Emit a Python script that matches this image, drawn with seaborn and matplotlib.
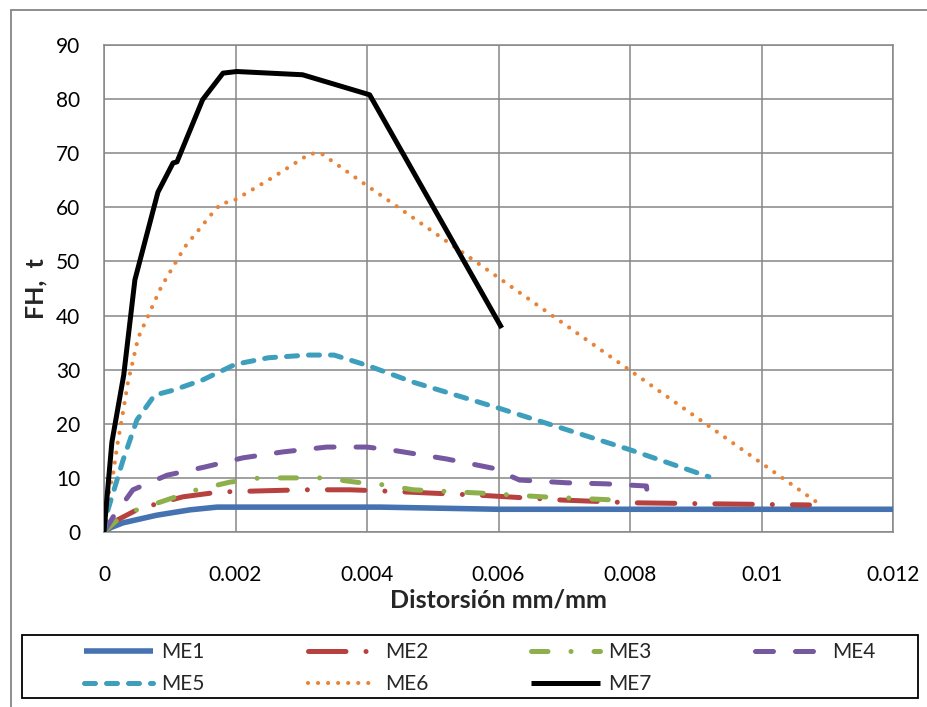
import numpy as np
import pandas as pd
import matplotlib.pyplot as plt
import seaborn as sns
from matplotlib.patches import Rectangle
from matplotlib.lines import Line2D

# ---- data ----
me1_x = [0, 0.0001, 0.00029, 0.0008, 0.00131, 0.00172, 0.0042, 0.006, 0.012]
me1_y = [0, 0.8, 1.7, 3.1, 4.1, 4.6, 4.6, 4.2, 4.2]

me2_x = [0, 0.0002, 0.0005, 0.0008, 0.0012, 0.00176, 0.00302, 0.00374, 0.0042,
         0.00571, 0.00697, 0.00804, 0.00931, 0.01073]
me2_y = [0, 2.2, 4.1, 5.2, 6.5, 7.4, 7.8, 7.8, 7.6, 6.8, 5.9, 5.4, 5.2, 5.0]

me3_x = [0, 0.0002, 0.0005, 0.00085, 0.00141, 0.00191, 0.00237, 0.00293, 0.00333,
         0.00384, 0.00427, 0.0047, 0.00571, 0.00667, 0.0078]
me3_y = [0, 2.2, 4.1, 5.5, 7.8, 9.2, 10.0, 10.0, 10.0, 9.2, 8.7, 7.8, 7.2, 6.5, 5.9]

me4_x = [0, 0.00014, 0.00044, 0.00096, 0.00153, 0.00211, 0.00272, 0.00339, 0.004,
         0.00445, 0.00521, 0.00591, 0.00632, 0.00703, 0.00764, 0.00825, 0.00826]
me4_y = [0, 2.8, 7.8, 10.5, 12.0, 13.7, 14.8, 15.7, 15.7, 15.0, 13.5, 11.8, 9.6,
         9.1, 8.9, 8.5, 7.4]

me5_x = [0, 0.00006, 0.00029, 0.0005, 0.00077, 0.00105, 0.0015, 0.002, 0.0025,
         0.0031, 0.0035, 0.004, 0.0047, 0.006, 0.008, 0.0092]
me5_y = [0, 4.1, 13.3, 20.7, 25.3, 26.2, 28.1, 31.0, 32.2, 32.7, 32.7, 30.8, 27.7,
         22.9, 15.2, 10.2]

me6_x = [0, 0.00006, 0.00014, 0.00021, 0.00029, 0.00036, 0.00052, 0.00087, 0.00123,
         0.00166, 0.00179, 0.00194, 0.00255, 0.00313, 0.0033, 0.004, 0.00431, 0.006,
         0.0109]
me6_y = [0, 6.3, 10.9, 16.6, 22.2, 27.4, 35.9, 45.3, 52.7, 59.1, 60.8, 61.0, 65.4,
         69.9, 70.0, 64.0, 61.4, 47.0, 5.0]

me7_x = [0, 0.00005, 0.00012, 0.0003, 0.00047, 0.00082, 0.00105, 0.00111, 0.0015,
         0.00181, 0.00202, 0.00302, 0.00404, 0.00605]
me7_y = [0, 7.0, 16.6, 29.0, 46.6, 62.8, 68.2, 68.4, 79.9, 84.8, 85.1, 84.5, 80.8, 37.7]

series_names = ["ME1", "ME2", "ME3", "ME4", "ME5", "ME6", "ME7"]
xs = [me1_x, me2_x, me3_x, me4_x, me5_x, me6_x, me7_x]
ys = [me1_y, me2_y, me3_y, me4_y, me5_y, me6_y, me7_y]

x_ticks = [0, 0.002, 0.004, 0.006, 0.008, 0.01, 0.012]
x_tick_labels = ["0", "0.002", "0.004", "0.006", "0.008", "0.01", "0.012"]
y_ticks = [0, 10, 20, 30, 40, 50, 60, 70, 80, 90]

colors = ["#4572B0", "#B7413E", "#8EB04C", "#7558A0", "#3E9FBC", "#E8843A", "#000000"]
dashes = [None, (7.5, 4.0, 0.01, 4.0), (3.3, 4.6, 0.01, 4.6), (3.6, 4.4), (2.2, 2.2),
          (0.01, 2.4), None]
widths = [4.0, 3.6, 3.6, 3.6, 3.6, 3.0, 3.6]

sns.set_style("white")
plt.rcParams["font.family"] = ["Lato", "DejaVu Sans"]

fig = plt.figure(figsize=(9.27, 7.07), dpi=100)
ax = fig.add_axes([104 / 927, 1 - 532 / 707, (893 - 104) / 927, (532 - 45) / 707])

grid_c = "#868686"
for name, x, y, c, d, w in zip(series_names, xs, ys, colors, dashes, widths):
    df = pd.DataFrame({"x": x, "y": y})
    sns.lineplot(data=df, x="x", y="y", ax=ax, color=c, linewidth=w,
                 estimator=None, sort=False, label=name, zorder=3)
    line = ax.lines[-1]
    if d is not None:
        line.set_dashes(d)
        line.set_dash_capstyle("round")
    line.set_solid_capstyle("butt")

ax.set_xlim(0, 0.012)
ax.set_ylim(0, 90)
ax.set_xticks(x_ticks)
ax.set_xticklabels(x_tick_labels)
ax.set_yticks(y_ticks)
ax.grid(True, color=grid_c, linewidth=1.1, zorder=0)
for s in ax.spines.values():
    s.set_color(grid_c)
    s.set_linewidth(1.1)
ax.tick_params(axis="both", direction="out", length=5, width=1.1, color=grid_c,
               labelsize=15, labelcolor="black")
ax.tick_params(axis="y", pad=12)
ax.tick_params(axis="x", pad=19)

ax.set_xlabel("Distorsión mm/mm", fontsize=18, fontweight="bold", labelpad=2)
ax.set_ylabel("FH,  t", fontsize=18, fontweight="bold", labelpad=6)

# legend (row-major order like the original)
ax.get_legend().remove()
handles = {l.get_label(): l for l in ax.lines if l.get_label() in series_names}
order = ["ME1", "ME5", "ME2", "ME6", "ME3", "ME7", "ME4"]
leg = fig.legend([handles[n] for n in order], order, ncol=4, frameon=False,
                 loc="upper left", bbox_to_anchor=(84 / 927, 1 - 642 / 707),
                 borderpad=0, borderaxespad=0, handlelength=3.3,
                 handletextpad=0.4, columnspacing=4.95, labelspacing=0.6,
                 fontsize=15)

fig.add_artist(Rectangle((22 / 927, 1 - 698 / 707), (918 - 22) / 927, 63 / 707,
                         transform=fig.transFigure, fill=False, edgecolor="black",
                         linewidth=1.3))

# outer chart-area border (left and top visible)
fig.add_artist(Line2D([11 / 927, 11 / 927], [0, 1 - 10 / 707], transform=fig.transFigure,
                      color=grid_c, linewidth=1.3))
fig.add_artist(Line2D([11 / 927, 1], [1 - 10 / 707, 1 - 10 / 707], transform=fig.transFigure,
                      color=grid_c, linewidth=1.3))

fig.savefig("out.png", dpi=100)
